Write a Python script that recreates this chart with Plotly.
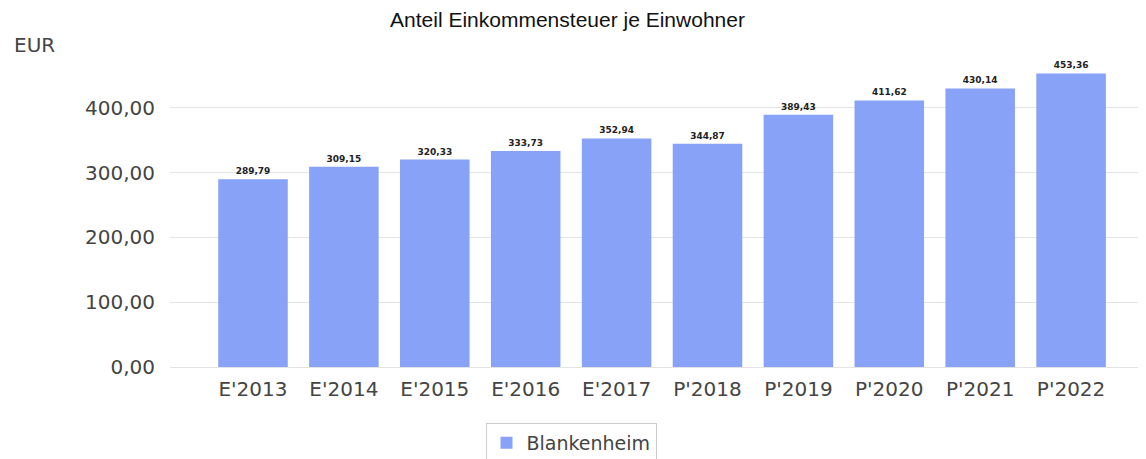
import plotly.graph_objects as go

# Anteil Einkommensteuer je Einwohner, Blankenheim
jahre = ["E'2013", "E'2014", "E'2015", "E'2016", "E'2017",
         "P'2018", "P'2019", "P'2020", "P'2021", "P'2022"]
werte = [289.79, 309.15, 320.33, 333.73, 352.94,
         344.87, 389.43, 411.62, 430.14, 453.36]
y_ticks = [0, 100, 200, 300, 400]

# the page adds an 8px body margin, so the layout is shifted up/left by 8px
W, H = 1146, 459
OFF = 8

fig = go.Figure()
fig.add_trace(go.Bar(
    x=jahre,
    y=werte,
    name="Blankenheim",
    marker=dict(color="#87a2f7", line=dict(width=0)),
    texttemplate="<b>%{y:.2f}</b>",
    textposition="outside",
    textfont=dict(family="DejaVu Sans", size=9, color="#222222"),
    cliponaxis=False,
    showlegend=True,
))

fig.update_layout(
    width=W, height=H,
    margin=dict(l=170 - OFF, r=0, t=60 - OFF, b=H - (367 - OFF)),
    paper_bgcolor="white",
    plot_bgcolor="white",
    separators=",.",
    bargap=0.235,
    title=dict(text="Anteil Einkommensteuer je Einwohner",
               xref="container", x=(567.5 - OFF) / W, xanchor="center",
               yref="container", y=1 - (20 - OFF) / H, yanchor="middle", pad=dict(t=0, b=0),
               font=dict(family="Liberation Sans", size=21, color="#111111")),
    legend=dict(orientation="h", xref="container", x=(571 - OFF) / W, xanchor="center",
                yref="container", y=1 - (423 - OFF) / H, yanchor="top",
                bordercolor="#cccccc", borderwidth=1,
                font=dict(family="DejaVu Sans", size=19, color="#444444")),
    annotations=[dict(text="EUR", xref="paper", yref="paper",
                      x=(12 - 170) / 984, xanchor="left",
                      y=1 + 15 / 307, yanchor="middle", showarrow=False,
                      font=dict(family="DejaVu Sans", size=20, color="#444444"))],
)

fig.update_xaxes(
    type="category",
    range=[-0.913, -0.913 + 984 / 90.9],
    automargin=False,
    showline=False, showgrid=False, ticks="", ticklabelstandoff=8,
    tickfont=dict(family="DejaVu Sans", size=20, color="#444444"),
)
fig.update_yaxes(
    range=[0, 474.1],
    automargin=False,
    tickvals=y_ticks,
    tickformat=".2f",
    showgrid=True, gridcolor="#e3e3e3", gridwidth=1,
    zeroline=True, zerolinecolor="#e3e3e3", zerolinewidth=1,
    showline=False, ticks="", ticklabelstandoff=14,
    tickfont=dict(family="DejaVu Sans", size=20, color="#444444"),
)

fig.write_html("out.html")
